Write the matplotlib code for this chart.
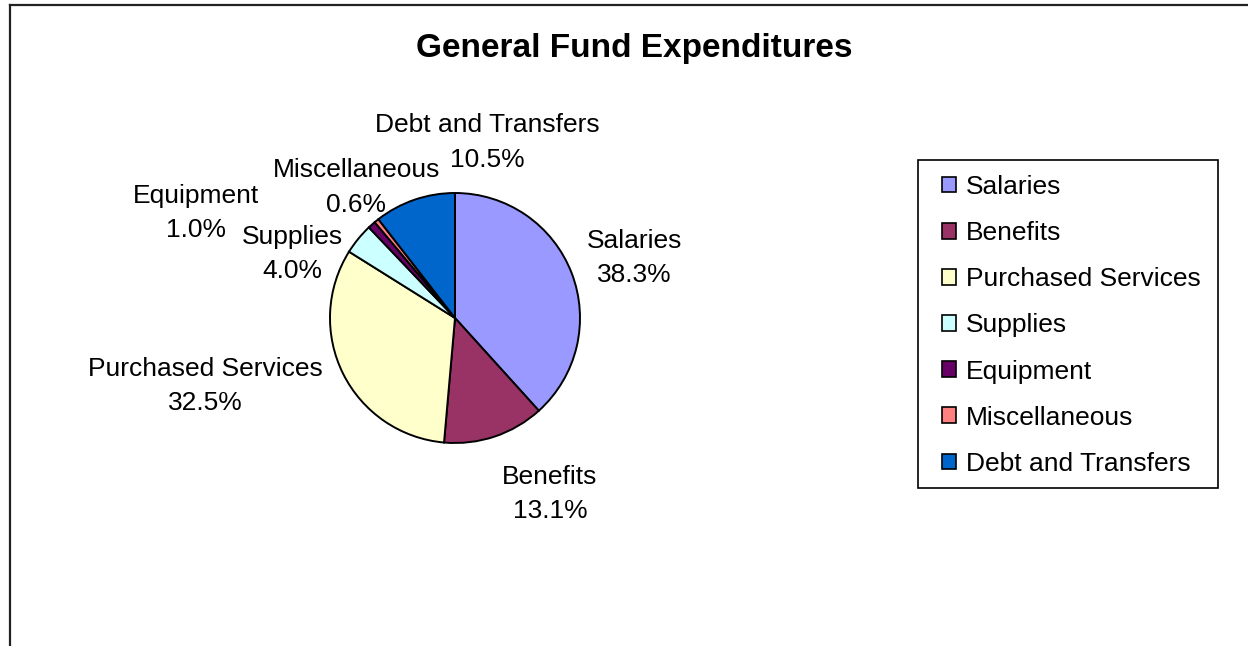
import matplotlib.pyplot as plt
from matplotlib.patches import Patch, Rectangle
from matplotlib.lines import Line2D

plt.rcParams["font.family"] = ["Liberation Sans", "DejaVu Sans"]

##Data
categories = ["Salaries", "Benefits", "Purchased Services", "Supplies",
              "Equipment", "Miscellaneous", "Debt and Transfers"]
shares = [38.3, 13.1, 32.5, 4.0, 1.0, 0.6, 10.5]
colors = ["#9999FF", "#993366", "#FFFFCC", "#CCFFFF", "#660066", "#FF8080", "#0066CC"]

#label centres in units of pie radius (layout only)
label_xy = [(1.436, 0.48), (0.76, -1.41), (-2.0, -0.545), (-1.304, 0.51),
            (-2.07, 0.84), (-0.79, 1.045), (0.26, 1.405)]

W, H = 1248, 646
cx, cy, R = 455, 318, 125      #pie centre and radius in pixels

fig = plt.figure(figsize=(W/100, H/100), dpi=100)
ax = fig.add_axes([0, 0, 1, 1])

ax.pie(shares, colors=colors, startangle=90, counterclock=False, radius=1,
       wedgeprops={"edgecolor": "black", "linewidth": 1.4})
ax.set_aspect("auto")
ax.set_xlim(-cx/R, (W-cx)/R)
ax.set_ylim(-(H-cy)/R, cy/R)
ax.axis("off")

for name, v, (x, y) in zip(categories, shares, label_xy):
    ax.text(x, y, f"{name}\n{v:.1f}%", ha="center", va="center",
            fontsize=19, linespacing=1.55)

fig.text(634/W, 1-49/H, "General Fund Expenditures", ha="center", va="center",
         fontsize=24, fontweight="bold")

##Legend (frame drawn separately so the padding matches)
handles = [Patch(facecolor=c, edgecolor="black", linewidth=1.2) for c in colors]
leg = fig.legend(handles, categories, loc="upper left",
                 bbox_to_anchor=(930/W, 1-163/H), fontsize=19,
                 frameon=False, handlelength=0.55, handleheight=0.55,
                 handletextpad=0.35, labelspacing=0.84, borderpad=0.45,
                 borderaxespad=0)
fig.add_artist(Rectangle((918/W, 1-488/H), 300/W, 328/H, transform=fig.transFigure,
                         facecolor="none", edgecolor="black", linewidth=1.2))

#chart area border (top and left only visible)
fig.add_artist(Line2D([10/W, 1], [1-5/H, 1-5/H], color="#222222", linewidth=1.6))
fig.add_artist(Line2D([10/W, 10/W], [0, 1-5/H], color="#222222", linewidth=1.6))

fig.savefig("out.png", dpi=100)
